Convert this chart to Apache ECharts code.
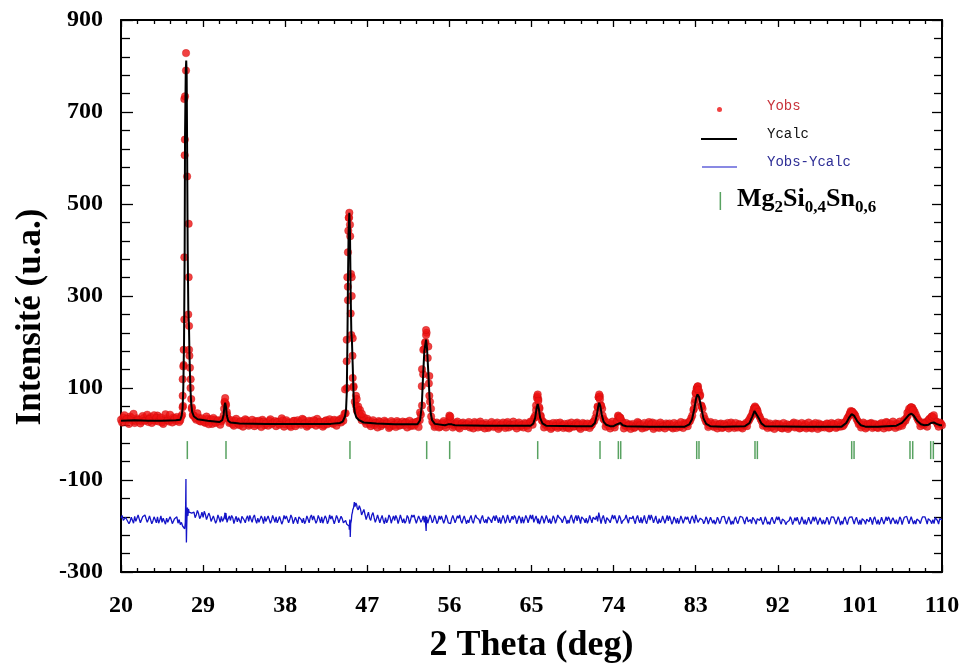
<!DOCTYPE html>
<html>
<head>
<meta charset="utf-8">
<script src="https://cdn.jsdelivr.net/npm/echarts@6/dist/echarts.min.js"></script>
<style>html,body{margin:0;padding:0;background:#fff}#c{width:973px;height:669px}</style>
</head>
<body>
<div id="c"></div>
<script>
// ---- data ----
const xMin = 20, xMax = 110, xStep = 9;
const yMin = -300, yMax = 900, yStep = 200;

// Observed intensity, 0.25 deg grid starting at 20.000: one row per degree (x.00, x.25, x.50, x.75)
const obsGrid = [
[31,36,27,33],[38,29,24,34],[30,27,35,31],[26,37,30,28],[40,32,25,30],[34,27,31,36],[28,33,30,58],
[640,560,170,55],[40,31,36,27],[30,24,33,28],[22,31,26,29],[27,40,62,33],[26,21,29,24],[19,27,23,30],
[18,25,22,28],[20,26,31,19],[24,29,21,25],[17,27,23,30],[21,26,18,24],[29,22,26,20],[31,24,19,27],
[22,28,33,21],[25,19,30,24],[27,22,29,26],[32,35,44,100],[470,215,104,62],[52,40,33,27],[33,22,26,19],
[24,28,17,22],[26,20,16,25],[21,28,18,23],[19,26,22,17],[25,21,27,30],[62,185,220,110],[38,24,18,22],
[16,24,19,26],[36,22,18,24],[15,20,25,17],[22,14,21,26],[18,23,16,20],[24,13,19,22],[17,25,15,21],
[18,23,14,20],[27,17,22,16],[19,24,18,23],[26,34,62,76],[40,27,20,16],[22,14,19,24],[16,21,13,18],
[23,15,20,17],[25,14,19,22],[16,21,18,26],[35,58,82,55],[30,21,17,22],[19,24,38,35],[25,18,15,21],
[17,13,20,24],[16,19,14,22],[17,25,15,19],[13,21,18,23],[16,20,12,18],[22,15,19,24],[21,26,34,52],
[88,104,85,55],[33,25,19,22],[15,20,17,23],[14,19,24,16],[21,13,18,22],[15,20,24,27],[36,48,58,52],
[38,27,22,17],[20,14,18,23],[15,19,12,17],[21,14,18,25],[16,20,13,19],[22,15,18,12],[20,16,23,14],
[19,17,22,13],[18,21,15,19],[24,20,29,38],[47,45,40,28],[23,18,21,15],[19,24,16,20],[13,18,22,17],
[25,15,20,18],[23,16,21,24],[29,40,52,57],[48,36,27,22],[19,26,30,34],[32,28,22,25],[19]
];
// Observed intensity, 0.25 deg grid starting at 20.125 (interleaved points)
const obsGrid2 = [
[25,41,33,22],[35,44,28,31],[23,39,29,42],[33,24,41,35],[27,36,22,43],[30,42,25,33],[37,26,38,150],
[790,260,100,42],[35,45,28,34],[26,38,21,32],[35,24,30,20],[32,68,42,24],[30,18,33,22],[28,16,32,25],
[21,31,17,26],[29,15,27,23],[18,32,24,28],[26,20,34,16],[30,23,15,28],[17,30,24,33],[23,16,29,21],
[30,18,24,27],[16,28,21,32],[24,31,18,28],[25,29,45,320],[430,170,70,50],[42,30,36,22],[28,17,30,24],
[14,26,21,29],[23,13,28,19],[15,25,20,27],[24,14,29,20],[18,26,15,42],[130,200,165,70],[27,15,25,14],
[21,28,14,22],[30,14,22,27],[12,23,18,21],[26,17,12,23],[14,27,21,12],[20,16,26,15],[22,11,19,25],
[13,26,20,17],[21,12,25,19],[14,22,12,27],[20,36,82,55],[30,14,23,20],[11,24,17,13],[25,18,22,14],
[12,25,16,23],[20,11,24,15],[23,13,20,28],[45,80,62,33],[16,25,12,27],[14,28,36,29],[12,24,19,11],
[22,15,26,19],[12,24,17,26],[21,11,23,15],[25,16,12,20],[23,15,24,13],[18,26,13,21],[17,28,40,68],
[100,92,62,40],[27,15,26,18],[24,12,21,13],[22,17,12,25],[17,24,14,20],[12,19,17,31],[40,55,56,42],
[32,18,26,13],[23,17,11,21],[22,13,24,15],[11,20,22,14],[23,12,24,16],[12,25,14,21],[24,11,19,20],
[14,23,12,24],[22,13,25,16],[17,25,34,42],[49,44,33,21],[14,25,12,22],[23,13,22,14],[21,24,12,26],
[14,22,27,13],[20,27,18,31],[36,50,58,52],[42,31,17,25],[23,16,33,38],[35,27,16,23]
];

// Additional observed points on the peaks [2theta, intensity]
const obsPeaks = [
[26.7,42],[26.76,83],[26.76,119],[26.8,61],[26.83,147],[26.87,183],[26.94,249],[26.94,384],[26.94,728],
[26.98,606],[27.02,734],[27.13,828],[27.42,457],[27.42,341],[27.46,235],[27.46,183],[27.56,144],[27.64,119],
[27.7,76],[27.77,58],[27.9,40],
[31.3,55],[31.35,70],[31.42,78],[31.5,65],[31.6,48],
[44.56,97],[44.74,158],[44.74,205],[44.81,341],[44.88,291],[44.88,395],[44.92,442],[44.96,470],[45.03,481],
[45.1,455],[45.18,262],[45.21,348],[45.29,341],[45.29,300],[45.4,208],[45.4,122],[45.48,101],[45.76,83],
[45.84,54],[45.84,76],[46.0,60],[46.2,52],[46.4,44],
[52.78,47],[52.97,104],[53.0,141],[53.14,183],[53.33,198],[53.44,215],[53.44,226],[53.69,190],[53.8,126],
[53.8,83],[53.98,55],
[56.0,40],[56.1,38],
[65.4,40],[65.5,52],[65.6,78],[65.68,86],[65.75,72],[65.85,58],[66.0,38],
[72.25,60],[72.35,80],[72.42,86],[72.5,75],[72.6,62],[72.8,40],
[74.5,40],[74.7,36],
[82.8,55],[82.95,75],[83.0,90],[83.1,98],[83.2,103],[83.3,96],[83.45,82],[83.65,60],
[89.3,46],[89.4,56],[89.5,60],[89.6,55],[89.8,48],
[99.9,45],[100.0,50],[100.2,48],
[106.2,46],[106.4,55],[106.6,58],[106.8,52],
[108.9,38],[109.1,41]
];

// Calculated profile [2theta, intensity]
const calc = [
[20,29],[21.5,30],[23,29],[24.5,29],[26,30],[26.5,31],[26.65,40],[26.75,55],[26.83,100],[26.91,200],[26.98,400],
[27.02,650],[27.1,790],[27.15,812],[27.2,780],[27.24,650],[27.31,400],[27.38,270],[27.45,237],[27.5,180],
[27.56,130],[27.62,95],[27.7,65],[27.8,48],[28.0,38],[28.4,32],[29.5,29],[30.8,26],[31.1,30],[31.25,42],
[31.35,62],[31.42,68],[31.5,60],[31.6,40],[31.75,29],[32.0,25],[33,23],[36,22],[40,22],[43,22],[44,24],
[44.3,27],[44.55,38],[44.67,53],[44.75,90],[44.82,200],[44.88,330],[44.95,440],[45.03,481],[45.1,440],
[45.18,300],[45.25,220],[45.32,200],[45.4,150],[45.48,95],[45.54,60],[45.65,45],[45.8,36],[46.1,30],
[46.6,25],[48,23],[50,21],[52.5,21],[52.78,30],[52.97,60],[53.1,120],[53.25,180],[53.44,205],[53.55,185],
[53.7,130],[53.82,80],[53.95,45],[54.1,30],[54.4,22],[55.5,19],[55.85,21],[56.05,25],[56.25,21],[56.6,19],
[60,18],[64.9,18],[65.2,23],[65.4,35],[65.55,55],[65.68,65],[65.8,55],[65.95,35],[66.2,23],[66.6,18],
[70,17],[71.6,17],[71.95,24],[72.15,40],[72.3,58],[72.42,68],[72.55,60],[72.7,42],[72.9,27],[73.2,20],
[73.6,17],[74.0,17],[74.35,21],[74.55,25],[74.75,24],[75.0,19],[75.4,17],[78,16],[81.8,16],[82.3,21],
[82.6,32],[82.85,55],[83.05,78],[83.2,86],[83.38,80],[83.6,58],[83.85,34],[84.15,22],[84.6,17],[86,16],
[88.4,17],[88.9,24],[89.2,38],[89.45,50],[89.65,47],[89.9,35],[90.2,23],[90.6,17],[95,16],[99,16],
[99.5,24],[99.8,35],[100.1,43],[100.35,40],[100.7,28],[101.1,19],[101.6,16],[103,16],[105,18],[105.6,24],
[106.0,33],[106.4,42],[106.65,44],[106.9,40],[107.3,28],[107.7,21],[108.1,19],[108.5,20],[108.8,24],
[109.1,25],[109.4,22],[109.8,19],[110,19]
];

// Difference Yobs-Ycalc, 0.25 deg grid from 20.000, one row per degree
const diffGrid = [
[-183,-188,-181,-186],[-190,-184,-179,-187],[-185,-191,-183,-178],[-186,-182,-189,-184],[-180,-187,-192,-185],
[-183,-189,-186,-191],[-188,-194,-197,-200],[-205,-185,-168,-172],[-170,-176,-173,-179],[-181,-175,-184,-178],
[-186,-180,-188,-183],[-179,-185,-172,-184],[-188,-182,-186,-191],[-184,-179,-187,-183],[-190,-185,-181,-187],
[-183,-189,-184,-179],[-186,-181,-188,-184],[-180,-187,-183,-189],[-185,-179,-186,-182],[-188,-184,-180,-186],
[-183,-189,-185,-181],[-187,-182,-188,-184],[-180,-186,-183,-189],[-185,-181,-187,-183],[-189,-184,-191,-196],
[-200,-188,-160,-150],[-165,-163,-172,-175],[-178,-183,-176,-182],[-185,-179,-184,-188],[-182,-187,-181,-185],
[-188,-183,-186,-180],[-184,-189,-182,-186],[-181,-186,-190,-184],[-187,-192,-180,-185],[-183,-188,-184,-190],
[-186,-181,-187,-183],[-189,-184,-180,-186],[-183,-188,-185,-181],[-187,-183,-189,-184],[-182,-186,-183,-188],
[-185,-180,-187,-183],[-189,-184,-181,-186],[-183,-188,-185,-190],[-186,-182,-187,-183],[-180,-186,-183,-189],
[-185,-192,-178,-184],[-188,-183,-186,-181],[-184,-189,-183,-187],[-181,-186,-190,-184],[-187,-182,-186,-183],
[-189,-184,-180,-186],[-183,-188,-185,-181],[-186,-190,-174,-183],[-187,-182,-188,-184],[-185,-180,-187,-183],
[-189,-184,-186,-182],[-184,-188,-183,-187],[-181,-186,-189,-184],[-187,-183,-186,-190],[-184,-188,-182,-186],
[-189,-185,-191,-186],[-183,-188,-185,-190],[-186,-189,-184,-180],[-176,-192,-183,-187],[-190,-185,-188,-183],
[-187,-191,-186,-189],[-184,-188,-192,-187],[-189,-185,-190,-186],[-183,-188,-185,-191],[-186,-181,-189,-184],
[-188,-185,-190,-187],[-191,-186,-189,-193],[-187,-190,-185,-189],[-192,-188,-186,-190],[-189,-185,-191,-187],
[-186,-190,-184,-188],[-190,-186,-189,-184],[-187,-191,-186,-189],[-184,-188,-192,-187],[-189,-185,-190,-186],
[-183,-188,-186,-190],[-187,-184,-189,-185],[-191,-187,-185,-189],[-186,-190,-184,-188],[-189,-185,-187,-183],
[-186,-190,-185,-188],[-184,-180,-187,-183],[-188,-185,-189,-186],[-183,-187,-184,-189],[-186,-182,-188,-184],[-187]
];
// Difference, interleaved 0.25 deg grid from 20.125
const diffGrid2 = [
[-177,-192,-186,-195],[-181,-194,-190,-176],[-193,-180,-176,-192],[-178,-195,-180,-193],[-194,-178,-183,-196],
[-192,-180,-195,-184],[-180,-186,-192,-200],[-140,-170,-168,-174],[-182,-166,-184,-170],[-168,-186,-172,-190],
[-178,-194,-176,-192],[-190,-176,-192,-178],[-177,-195,-179,-182],[-194,-176,-193,-178],[-177,-192,-176,-194],
[-192,-178,-195,-190],[-178,-194,-177,-192],[-193,-179,-196,-177],[-178,-193,-176,-195],[-181,-195,-178,-193],
[-195,-178,-193,-176],[-178,-194,-177,-193],[-194,-178,-195,-176],[-178,-195,-177,-193],[-179,-193,-188,-197],
[-215,-170,-152,-160],[-156,-176,-164,-186],[-170,-188,-171,-192],[-176,-193,-177,-195],[-193,-176,-194,-178],
[-177,-195,-176,-193],[-194,-177,-195,-176],[-176,-194,-178,-192],[-178,-190,-194,-176],[-193,-177,-195,-178],
[-178,-194,-176,-193],[-195,-177,-193,-178],[-176,-194,-178,-195],[-193,-177,-194,-176],[-178,-195,-177,-193],
[-194,-176,-193,-178],[-177,-193,-195,-177],[-194,-176,-193,-179],[-177,-195,-178,-194],[-194,-177,-193,-176],
[-176,-193,-176,-196],[-178,-194,-177,-193],[-195,-178,-194,-176],[-177,-193,-178,-195],[-194,-176,-194,-177],
[-177,-195,-176,-193],[-194,-177,-193,-178],[-178,-171,-195,-177],[-195,-178,-193,-176],[-177,-194,-177,-195],
[-193,-176,-194,-178],[-178,-195,-177,-193],[-194,-177,-195,-176],[-176,-193,-178,-195],[-193,-178,-194,-177],
[-178,-196,-180,-194],[-195,-178,-194,-180],[-180,-195,-178,-194],[-172,-196,-179,-195],[-180,-196,-181,-194],
[-196,-181,-195,-180],[-179,-196,-180,-197],[-196,-180,-195,-179],[-181,-196,-180,-195],[-195,-179,-196,-180],
[-181,-197,-180,-196],[-197,-181,-195,-180],[-180,-196,-181,-197],[-196,-180,-197,-182],[-181,-197,-180,-196],
[-197,-181,-196,-180],[-180,-197,-182,-196],[-196,-181,-197,-180],[-181,-196,-180,-198],[-196,-180,-197,-181],
[-180,-196,-181,-197],[-197,-180,-196,-182],[-181,-197,-180,-196],[-197,-181,-196,-180],[-180,-196,-182,-195],
[-196,-180,-197,-181],[-179,-195,-180,-196],[-196,-181,-195,-180],[-180,-196,-181,-195],[-195,-179,-196,-182]
];

// Extra difference points around the peaks [2theta, value]
const diffPeaks = [
[26.9,-196],[26.98,-206],[27.05,-192],[27.09,-150],[27.12,-98],[27.14,-178],[27.17,-236],[27.2,-205],
[27.23,-182],[27.28,-160],[27.33,-178],[27.4,-163],[27.46,-170],
[31.38,-171],[31.45,-186],
[44.92,-198],[45.03,-208],[45.08,-186],[45.13,-224],[45.18,-195],[45.3,-176],[45.4,-165],[45.58,-148],
[45.65,-158],[45.85,-155],[46.1,-166],
[53.35,-178],[53.45,-211],[53.55,-184],
[65.6,-176],[65.7,-194],
[83.15,-175],[83.3,-195]
];

// Bragg reflection positions of Mg2Si0,4Sn0,6
const braggPos = [27.27,31.51,45.10,53.51,56.03,65.68,72.51,74.52,74.78,83.11,83.36,89.50,89.76,
                  100.10,100.36,106.49,106.79,108.76,109.05];
const braggLevel = -35;

// ---- build series data ----
function gridToPairs(grid, start) {
  const out = [];
  grid.forEach((row, r) => row.forEach((v, c) => out.push([start + r + c * 0.25, v])));
  return out;
}
const obsData = gridToPairs(obsGrid, 20).concat(gridToPairs(obsGrid2, 20.125), obsPeaks);
const diffData = gridToPairs(diffGrid, 20).concat(gridToPairs(diffGrid2, 20.125), diffPeaks)
  .sort((a, b) => a[0] - b[0]);
const braggData = braggPos.map(x => [x, braggLevel]);

const serif = 'Liberation Serif';
const mono = 'Liberation Mono';

const chart = echarts.init(document.getElementById('c'), null, {renderer: 'canvas'});
const axisLine = {show: true, onZero: false, lineStyle: {color: '#000', width: 2}};
const tickLine = {color: '#000', width: 1.3};

chart.setOption({
  animation: false,
  backgroundColor: '#fff',
  grid: {left: 121, right: 31, top: 20, bottom: 91, containLabel: false},
  legend: [
    {
      orient: 'vertical', left: 701, top: 99, padding: 0, itemGap: 14,
      itemWidth: 61, itemHeight: 14, selectedMode: false,
      itemStyle: {borderWidth: 0},
      textStyle: {fontFamily: mono, fontSize: 14},
      data: [
        {name: 'Yobs', icon: 'path://M0,0M61,14M16,10.5A2.5,2.5 0 1,0 21,10.5A2.5,2.5 0 1,0 16,10.5Z', textStyle: {color: '#c8323a'}},
        {name: 'Ycalc', icon: 'path://M0,0M61,14M0,11H36V13H0Z', textStyle: {color: '#111'}},
        {name: 'Yobs-Ycalc', icon: 'path://M0,0M61,14M1,11.4H36V12.6H1Z', textStyle: {color: '#2f2f96'}}
      ]
    },
    {
      orient: 'vertical', left: 701, top: 186, padding: 0,
      itemWidth: 31, itemHeight: 18, selectedMode: false,
      itemStyle: {borderWidth: 0},
      data: [{name: 'Mg2Si0,4Sn0,6', icon: 'path://M0,0M31,18M18.6,0H20.1V18H18.6Z'}],
      formatter: () => '{b|Mg}{s|2}{b|Si}{s|0,4}{b|Sn}{s|0,6}',
      textStyle: {
        color: '#000',
        rich: {
          b: {fontFamily: serif, fontWeight: 'bold', fontSize: 26, lineHeight: 30, verticalAlign: 'top', color: '#000'},
          s: {fontFamily: serif, fontWeight: 'bold', fontSize: 17, lineHeight: 16, verticalAlign: 'bottom', color: '#000'}
        }
      }
    }
  ],
  xAxis: [
    {
      type: 'value', position: 'bottom', min: xMin, max: xMax, interval: xStep,
      axisLine: axisLine,
      axisTick: {show: true, inside: true, length: 7, lineStyle: tickLine},
      minorTick: {show: true, splitNumber: 5, length: 4, lineStyle: tickLine},
      splitLine: {show: false}, minorSplitLine: {show: false},
      axisLabel: {fontFamily: serif, fontWeight: 'bold', fontSize: 24, color: '#000', margin: 22},
      name: '2 Theta (deg)', nameLocation: 'middle', nameGap: 56,
      nameTextStyle: {fontFamily: serif, fontWeight: 'bold', fontSize: 36, color: '#000'}
    },
    {
      type: 'value', position: 'top', min: xMin, max: xMax, interval: xStep,
      axisLine: axisLine,
      axisTick: {show: true, inside: true, length: 7, lineStyle: tickLine},
      minorTick: {show: true, splitNumber: 5, length: 4, lineStyle: tickLine},
      splitLine: {show: false}, axisLabel: {show: false}
    }
  ],
  yAxis: [
    {
      type: 'value', position: 'left', min: yMin, max: yMax, interval: yStep,
      axisLine: axisLine,
      axisTick: {show: true, inside: true, length: 12, lineStyle: tickLine},
      minorTick: {show: true, splitNumber: 5, length: 9, lineStyle: tickLine},
      splitLine: {show: false}, minorSplitLine: {show: false},
      axisLabel: {fontFamily: serif, fontWeight: 'bold', fontSize: 24, color: '#000', margin: 18},
      name: 'Intensité (u.a.)', nameLocation: 'middle', nameGap: 72,
      nameTextStyle: {fontFamily: serif, fontWeight: 'bold', fontSize: 35, color: '#000', padding: [0, 42, 0, 0]}
    },
    {
      type: 'value', position: 'right', min: yMin, max: yMax, interval: yStep,
      axisLine: axisLine,
      axisTick: {show: true, inside: true, length: 10, lineStyle: tickLine},
      minorTick: {show: true, splitNumber: 5, length: 8, lineStyle: tickLine},
      splitLine: {show: false}, axisLabel: {show: false}
    }
  ],
  series: [
    {
      name: 'Yobs', type: 'scatter', xAxisIndex: 0, yAxisIndex: 0, data: obsData,
      symbol: 'circle', symbolSize: 7.5, z: 2,
      itemStyle: {color: '#ee1111', borderColor: '#c00a0a', borderWidth: 0.4}
    },
    {
      name: 'Ycalc', type: 'line', xAxisIndex: 0, yAxisIndex: 0, data: calc,
      symbol: 'none', z: 3, color: '#000',
      lineStyle: {color: '#000', width: 2}
    },
    {
      name: 'Yobs-Ycalc', type: 'line', xAxisIndex: 0, yAxisIndex: 0, data: diffData,
      symbol: 'none', z: 3, color: '#1414c8',
      lineStyle: {color: '#1414c8', width: 1.3}
    },
    {
      name: 'Mg2Si0,4Sn0,6', type: 'scatter', xAxisIndex: 0, yAxisIndex: 0, data: braggData,
      symbol: 'rect', symbolSize: [1.5, 18], z: 3,
      itemStyle: {color: '#2e8b3a'}
    }
  ]
});
</script>
</body>
</html>
